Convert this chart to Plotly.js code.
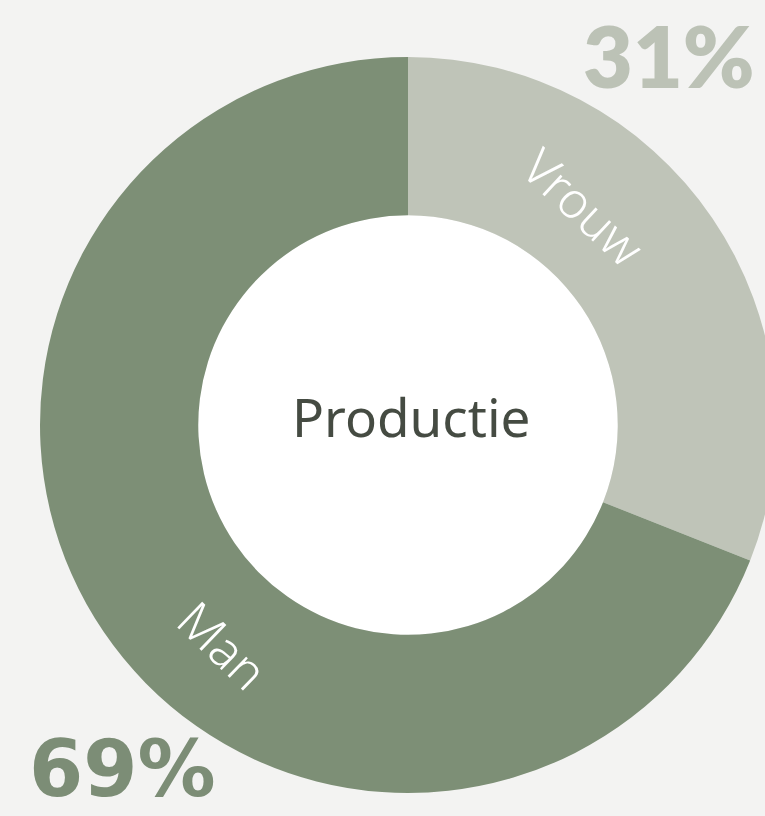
<!DOCTYPE html>
<html>
<head>
<meta charset="utf-8">
<script src="https://cdn.plot.ly/plotly-3.0.1.min.js"></script>
<style>
html,body{margin:0;padding:0;background:#f3f3f2;overflow:hidden;width:765px;height:816px;}
#chart{width:800px;height:816px;}
</style>
</head>
<body>
<div id="chart"></div>
<script>
// Data
const categories = ['Vrouw', 'Man'];
const values = [31, 69];
const percentLabels = ['31%', '69%'];
const centerTitle = 'Productie';

const colors = ['#bfc4b8', '#7d8f76'];
const W = 800, H = 816;
const cx = 408, cy = 425, R = 368, holeFrac = 0.57;
const rHole = R * holeFrac;

const trace = {
  type: 'pie',
  labels: categories,
  values: values,
  sort: false,
  direction: 'clockwise',
  rotation: 0,
  hole: holeFrac,
  marker: {colors: colors, line: {width: 0}},
  textinfo: 'none',
  hoverinfo: 'skip',
  showlegend: false,
  domain: {
    x: [(cx - R) / W, (cx + R) / W],
    y: [(H - cy - R) / H, (H - cy + R) / H]
  }
};

const labelFont = {family: '"Noto Sans", Lato, sans-serif', size: 50, color: '#ffffff', weight: 300};
function ann(text, px, py, font, angle) {
  return {text: text, xref: 'paper', yref: 'paper', x: px / W, y: 1 - py / H,
          xanchor: 'center', yanchor: 'middle', showarrow: false,
          textangle: angle || 0, font: font};
}

const layout = {
  width: W, height: H,
  margin: {l: 0, r: 0, t: 0, b: 0},
  paper_bgcolor: 'rgba(0,0,0,0)',
  plot_bgcolor: 'rgba(0,0,0,0)',
  shapes: [{
    type: 'circle', xref: 'paper', yref: 'paper', layer: 'below',
    x0: (cx - rHole) / W, x1: (cx + rHole) / W,
    y0: (H - cy - rHole) / H, y1: (H - cy + rHole) / H,
    fillcolor: '#ffffff', line: {width: 0}
  }],
  annotations: [
    ann(centerTitle, 411, 416, {family: '"Noto Sans", sans-serif', size: 53, color: '#454b42', weight: 400}),
    ann(categories[0], 584, 207, labelFont, 43),
    ann(categories[1], 223, 645, labelFont, 44),
    ann(percentLabels[0], 669, 55, {family: 'Lato, sans-serif', size: 86, color: '#bcc2b6', weight: 800}),
    ann(percentLabels[1], 122, 769, {family: '"DejaVu Sans", sans-serif', size: 78, color: '#7c8d76', weight: 700})
  ]
};

Plotly.newPlot('chart', [trace], layout, {staticPlot: true, displayModeBar: false});
</script>
</body>
</html>
